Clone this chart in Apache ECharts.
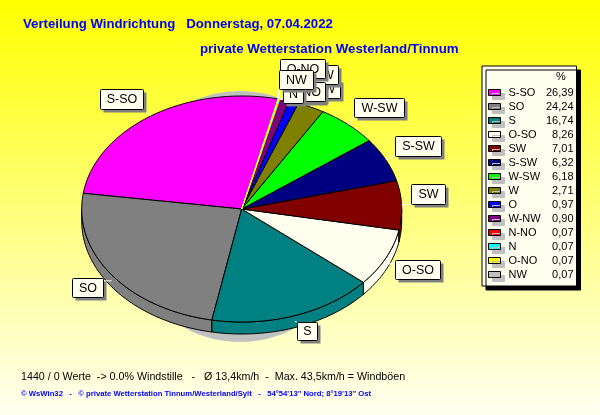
<!DOCTYPE html>
<html><head><meta charset="utf-8">
<style>html,body{margin:0;padding:0;background:#fff}#c{width:600px;height:415px}</style>
<script src="https://cdn.jsdelivr.net/npm/echarts@6/dist/echarts.min.js"></script>
</head><body><div id="c"></div>
<script>
const categories = ['S-SO','SO','S','O-SO','SW','S-SW','W-SW','W','O','W-NW','N-NO','N','O-NO','NW'];
const values = [26.39,24.24,16.74,8.26,7.01,6.32,6.18,2.71,0.97,0.90,0.07,0.07,0.07,0.07];
const colors = ['#ff00ff','#808080','#008080','#fffff0','#800000','#000080','#00ff00','#808000','#0000ff','#800080','#ff0000','#00ffff','#ffff00','#c0c0c0'];
const titleText = 'Verteilung Windrichtung   Donnerstag, 07.04.2022';
const subtitleText = 'private Wetterstation Westerland/Tinnum';
const footerText = '1440 / 0 Werte  -> 0.0% Windstille   -   Ø 13,4km/h  -  Max. 43,5km/h = Windböen';
const creditText = "© WsWin32   -   © private Wetterstation Tinnum/Westerland/Sylt   -   54°54'13'' Nord; 8°19'13'' Ost";

// layout (not data)
const pie = {cx:241.7, cy:209, rx:160, ry:113, depth:12, startDeg:77};
const labelBox = {
  'S-SO':[100,89,43,20],'SO':[72,278,31,19],'S':[297,322,20,18],'O-SO':[395,260,45,19],
  'SW':[411,184,34,20],'S-SW':[395,136,46,20],'W-SW':[354,98,50,19],'W':[318,79,22,19],
  'O':[303,83,21,19],'W-NW':[292,65,46,19],'N-NO':[284,82,41,19],'N':[283,84,20,19],
  'O-NO':[280,59,45,19],'NW':[279,70,34,19]};

const total = values.reduce((a,b)=>a+b,0);
function rim(t,dy){const r=t*Math.PI/180;return [pie.cx+pie.rx*Math.cos(r),pie.cy-pie.ry*Math.sin(r)+(dy||0)];}
function arcPts(a,b,dy){const p=[];const n=Math.max(1,Math.ceil(b-a));for(let i=0;i<=n;i++)p.push(rim(a+(b-a)*i/n,dy));return p;}
function startOf(i){let s=0;for(let k=0;k<i;k++)s+=values[k];return pie.startDeg+s/total*360;}

function renderSlice(i){
  return function(params,api){
    const a=startOf(i), sweep=api.value(0)/total*360, b=a+sweep, mid=(a+b)/2;
    const kids=[];
    const wa=Math.max(a,180), wb=Math.min(b,360);
    if(wb>wa){
      const top=arcPts(wa,wb,0), bot=arcPts(wa,wb,pie.depth).reverse();
      kids.push({type:'polygon',z2:10,shape:{points:top.concat(bot)},style:{fill:colors[i],stroke:'#000',lineWidth:1}});
    }
    const tiny=sweep<0.5, onTop=categories[i]==='O-NO';
    kids.push({type:'polygon',z2:onTop?38:20+i,shape:{points:[[pie.cx,pie.cy]].concat(arcPts(a,b,0))},style:{fill:colors[i],stroke:tiny?colors[i]:'#000',lineWidth:1}});
    const box=labelBox[categories[i]], m=rim(mid,mid>180&&mid<360?pie.depth*0.5:0);
    const nx=Math.min(Math.max(m[0],box[0]),box[0]+box[2]), ny=Math.min(Math.max(m[1],box[1]),box[1]+box[3]);
    kids.push({type:'line',z2:40,shape:{x1:m[0],y1:m[1],x2:nx,y2:ny},style:{stroke:'#fff',lineWidth:1}});
    const z=50+i*3;
    kids.push({type:'rect',z2:z,shape:{x:box[0]+3.5,y:box[1]+3.5,width:box[2],height:box[3]},style:{fill:'#808080'}});
    kids.push({type:'rect',z2:z+1,shape:{x:box[0]+0.5,y:box[1]+0.5,width:box[2],height:box[3],r:1},style:{fill:'#fffff0',stroke:'#000',lineWidth:1}});
    kids.push({type:'text',z2:z+2,style:{x:box[0]+box[2]/2+0.5,y:box[1]+box[3]/2+1,text:categories[i],align:'center',verticalAlign:'middle',fill:'#000',font:'12.5px "Liberation Sans"'}});
    return {type:'group',children:kids};
  };
}

const chart = echarts.init(document.getElementById('c'),null,{renderer:'canvas'});
const series = categories.map((name,i)=>({
  type:'custom',name,coordinateSystem:'none',silent:true,animation:false,clip:false,
  itemStyle:{color:colors[i]},
  data:[[values[i]]],
  renderItem:renderSlice(i)
}));
chart.setOption({
  animation:false,
  backgroundColor:{type:'linear',x:0,y:0,x2:0,y2:1,colorStops:[{offset:0,color:'#ffff00'},{offset:1,color:'#fffff2'}]},
  title:[
    {text:titleText,left:23,top:18,padding:0,textStyle:{color:'#0000ff',fontSize:13.2,fontWeight:'bold',fontFamily:'Liberation Sans'}},
    {text:subtitleText,left:200,top:43,padding:0,textStyle:{color:'#0000ff',fontSize:13.3,fontWeight:'bold',fontFamily:'Liberation Sans'}}
  ],
  legend:{
    orient:'vertical',left:482,top:66,padding:[21,3,6,6],itemGap:3,itemWidth:12,itemHeight:6,
    selectedMode:false,icon:'rect',data:categories,
    backgroundColor:'#fffff0',borderColor:'#000',borderWidth:1,borderRadius:0,
    shadowColor:'#000',shadowBlur:0,shadowOffsetX:4,shadowOffsetY:4,
    itemStyle:{borderColor:'#000',borderWidth:1,shadowColor:'#c0c0c0',shadowBlur:0,shadowOffsetX:4,shadowOffsetY:4},
    formatter:n=>{const v=values[categories.indexOf(n)].toFixed(2).replace('.',',');return '{n|'+n+'}{v|'+v+'}';},
    textStyle:{rich:{
      n:{width:38,padding:[0,0,0,3],align:'left',fontSize:11,lineHeight:12,color:'#000',fontFamily:'Liberation Sans'},
      v:{width:27,align:'right',fontSize:11,lineHeight:12,color:'#000',fontFamily:'Liberation Sans'}}}
  },
  graphic:[
    {type:'ellipse',z:-1,silent:true,shape:{cx:240,cy:216.5,rx:120,ry:125.5},style:{fill:'#c0c0c0'}},
    {type:'text',left:556,top:71,z:10,style:{text:'%',fill:'#000',font:'11px "Liberation Sans"'}},
    {type:'text',left:21,top:372,style:{text:footerText,fill:'#000',font:'10.7px "Liberation Sans"'}},
    {type:'text',left:21,top:390,style:{text:creditText,fill:'#0000ff',font:'bold 7.7px "Liberation Sans"'}}
  ],
  series
});
</script></body></html>
